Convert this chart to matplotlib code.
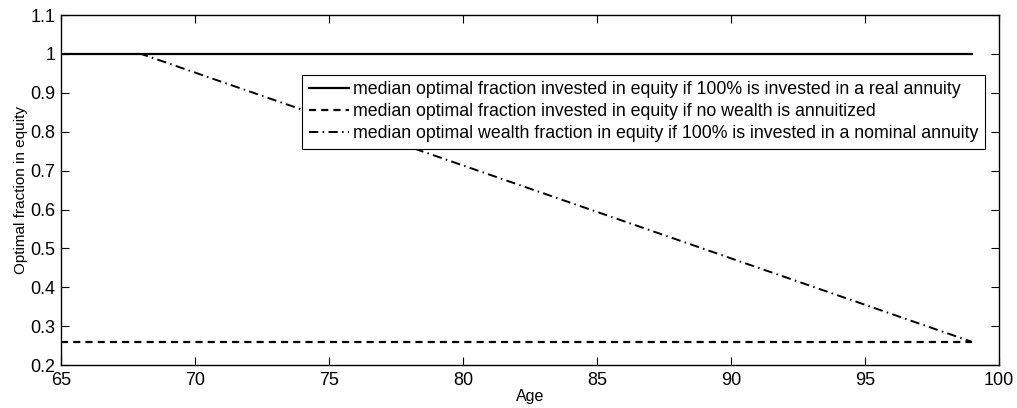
import numpy as np
import matplotlib
matplotlib.use("Agg")
import matplotlib.pyplot as plt
from matplotlib.ticker import FormatStrFormatter

plt.rcParams["font.family"] = ["Liberation Sans", "DejaVu Sans"]

# data
real_age = [65, 99]
real_frac = [1.0, 1.0]
none_age = [65, 99]
none_frac = [0.26, 0.26]
nominal_age = [65, 68, 99]
nominal_frac = [1.0, 1.0, 0.26]

labels = [
    "median optimal fraction invested in equity if 100% is invested in a real annuity",
    "median optimal fraction invested in equity if no wealth is annuitized",
    "median optimal wealth fraction in equity if 100% is invested in a nominal annuity",
]

fig = plt.figure(figsize=(10.17, 4.08), dpi=100)
ax = fig.add_axes([0.06, 0.105, 0.922, 0.858])

ax.plot(real_age, real_frac, "k-", lw=1.6, label=labels[0])
ax.plot(none_age, none_frac, color="k", lw=1.6, dashes=(3.2, 2.3), label=labels[1])
ax.plot(nominal_age, nominal_frac, color="k", lw=1.4, dashes=(4.8, 2.2, 0.8, 2.2), label=labels[2])

ax.set_xlim(65, 100)
ax.set_ylim(0.2, 1.1)
ax.set_xticks(np.arange(65, 101, 5))
ax.set_yticks(np.arange(0.2, 1.11, 0.1))
ax.yaxis.set_major_formatter(FormatStrFormatter("%g"))
ax.tick_params(direction="in", top=True, right=True, length=6, width=0.8, labelsize=13)
ax.tick_params(axis="y", pad=4)
ax.tick_params(axis="x", pad=5)
for s in ax.spines.values():
    s.set_linewidth(1.0)

ax.set_xlabel("Age", fontsize=11.5, labelpad=0)
ax.set_ylabel("Optimal fraction in equity", fontsize=11, labelpad=2)

leg = ax.legend(loc="upper right", bbox_to_anchor=(0.985, 0.83), borderaxespad=0,
                fontsize=12.8, handlelength=2.3, handletextpad=0.2, labelspacing=0.3,
                borderpad=0.35, fancybox=False, framealpha=1)
leg.get_frame().set_edgecolor("black")
leg.get_frame().set_linewidth(0.8)

fig.savefig("out.png", dpi=100)
